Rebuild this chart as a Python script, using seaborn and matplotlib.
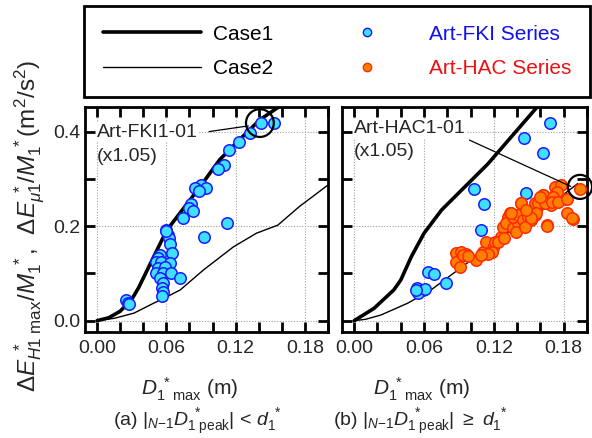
import numpy as np
import pandas as pd
import matplotlib
matplotlib.use("Agg")
import matplotlib.pyplot as plt
from matplotlib.lines import Line2D
from matplotlib.ticker import MultipleLocator, FormatStrFormatter
import seaborn as sns

# -----------------------
# Data
# -----------------------

case1_a_x = [0.0, 0.010, 0.020, 0.030, 0.036, 0.042, 0.048, 0.054, 0.060,
             0.070, 0.090, 0.106, 0.123, 0.141, 0.162]
case1_a_y = [0.0, 0.006, 0.020, 0.045, 0.070, 0.100, 0.130, 0.160, 0.190,
             0.222, 0.286, 0.340, 0.382, 0.425, 0.460]

case2_a_x = [0.0, 0.015, 0.032, 0.049, 0.060, 0.072, 0.092, 0.118, 0.138,
             0.1565, 0.175, 0.200]
case2_a_y = [0.0, 0.005, 0.016, 0.037, 0.050, 0.065, 0.107, 0.156, 0.185,
             0.202, 0.241, 0.287]

case1_b_x = [0.0, 0.017, 0.034, 0.040, 0.049, 0.060, 0.075, 0.095, 0.115,
             0.135, 0.160]
case1_b_y = [0.0, 0.026, 0.065, 0.086, 0.135, 0.185, 0.234, 0.283, 0.332,
             0.389, 0.460]

case2_b_x = [0.0, 0.010, 0.023, 0.046, 0.066, 0.089, 0.112, 0.135, 0.158,
             0.181, 0.192]
case2_b_y = [0.0, 0.003, 0.012, 0.037, 0.065, 0.107, 0.149, 0.192, 0.227,
             0.269, 0.290]

fki_a_x = [0.025, 0.027, 0.028,
           0.060, 0.0614, 0.0623, 0.0634, 0.065, 0.0542, 0.0528, 0.0514, 0.0557,
           0.0628, 0.0528, 0.0585, 0.0514, 0.0571, 0.0643, 0.0714, 0.0542, 0.0571,
           0.0565, 0.0571, 0.0565,
           0.1418, 0.1532, 0.1323, 0.1231, 0.1145, 0.1102, 0.1044, 0.0901, 0.0852,
           0.0944, 0.088, 0.0815, 0.080, 0.0829, 0.0743, 0.1122, 0.0594, 0.093]
fki_a_y = [0.044, 0.038, 0.035,
           0.192, 0.181, 0.174, 0.162, 0.143, 0.139, 0.132, 0.125, 0.125,
           0.121, 0.111, 0.114, 0.100, 0.100, 0.100, 0.090, 0.090, 0.079,
           0.069, 0.061, 0.052,
           0.419, 0.418, 0.398, 0.378, 0.360, 0.330, 0.320, 0.287, 0.280,
           0.280, 0.2745, 0.247, 0.239, 0.231, 0.217, 0.206, 0.190, 0.178]

fki_b_x = [0.168, 0.1458, 0.162, 0.1033, 0.1473, 0.1114, 0.109, 0.0632, 0.0689,
           0.079, 0.054, 0.0589, 0.0551, 0.0608, 0.0531]
fki_b_y = [0.418, 0.387, 0.355, 0.2775, 0.271, 0.246, 0.1915, 0.1035, 0.098,
           0.080, 0.0697, 0.065, 0.059, 0.067, 0.065]

hac_b_x = [0.0877, 0.092, 0.0963, 0.0877, 0.0905, 0.105, 0.1107, 0.1135, 0.1193,
           0.1207, 0.118, 0.1265, 0.128, 0.132, 0.1336, 0.1308, 0.1365, 0.141,
           0.139, 0.139, 0.0933, 0.0976, 0.1148, 0.1234, 0.129, 0.1364, 0.1407,
           0.145, 0.149, 0.152, 0.155, 0.1565, 0.161, 0.162, 0.1665, 0.169,
           0.182, 0.188, 0.166, 0.1436, 0.135, 0.1464, 0.109, 0.155,
           0.1724, 0.178, 0.1739, 0.1624, 0.171, 0.158, 0.1638, 0.1696, 0.1753,
           0.1825, 0.143, 0.1825, 0.1868, 0.1653, 0.1566, 0.1523, 0.148, 0.1595,
           0.194]
hac_b_y = [0.144, 0.146, 0.141, 0.125, 0.113, 0.128, 0.146, 0.167, 0.153,
           0.167, 0.146, 0.178, 0.199, 0.220, 0.227, 0.206, 0.196, 0.206,
           0.224, 0.188, 0.139, 0.137, 0.142, 0.167, 0.174, 0.220, 0.223,
           0.213, 0.220, 0.213, 0.223, 0.237, 0.248, 0.2655, 0.255, 0.244,
           0.258, 0.216, 0.202, 0.248, 0.227, 0.199, 0.139, 0.248,
           0.2836, 0.287, 0.273, 0.266, 0.262, 0.248, 0.248, 0.252, 0.252,
           0.257, 0.248, 0.2286, 0.2167, 0.200, 0.227, 0.2167, 0.234, 0.262,
           0.278]

x_ticks = [0.00, 0.06, 0.12, 0.18]
y_ticks = [0.0, 0.2, 0.4]

# -----------------------
# Style
# -----------------------

sns.set_style("ticks")
plt.rcParams["font.family"] = ["Liberation Sans", "DejaVu Sans"]
plt.rcParams["mathtext.fontset"] = "custom"
plt.rcParams["mathtext.rm"] = "Liberation Sans"
plt.rcParams["mathtext.it"] = "Liberation Sans:italic"
plt.rcParams["mathtext.bf"] = "Liberation Sans:bold"

FKI_FACE = "#3fe0ff"
FKI_EDGE = "#1a1aff"
HAC_FACE = "#ff8000"
HAC_EDGE = "#ff2a00"
FS = 14
MS = 68

fig = plt.figure(figsize=(5.92, 4.38), dpi=100)
ax_a = fig.add_axes([85 / 592, 1 - 332 / 438, 243 / 592, 225 / 438])
ax_b = fig.add_axes([342 / 592, 1 - 332 / 438, 245 / 592, 225 / 438])


def draw_curves(ax, c1x, c1y, c2x, c2y):
    sns.lineplot(x=c1x, y=c1y, ax=ax, color="black", lw=2.6,
                 sort=False, estimator=None, zorder=3)
    sns.lineplot(x=c2x, y=c2y, ax=ax, color="black", lw=1.0,
                 sort=False, estimator=None, zorder=3)


def style_axes(ax, show_ylabels):
    ax.set_xlim(-0.0105, 0.2)
    ax.set_ylim(-0.024, 0.452)
    ax.set_xticks(x_ticks)
    ax.set_yticks(y_ticks)
    ax.xaxis.set_minor_locator(MultipleLocator(0.02))
    ax.yaxis.set_minor_locator(MultipleLocator(0.1))
    ax.xaxis.set_major_formatter(FormatStrFormatter("%.2f"))
    ax.yaxis.set_major_formatter(FormatStrFormatter("%.1f"))
    ax.tick_params(which="both", direction="in", top=True, right=True,
                   length=7, width=2, color="black", labelsize=FS)
    ax.tick_params(axis="x", pad=6)
    ax.tick_params(axis="y", pad=3)
    if not show_ylabels:
        ax.tick_params(axis="y", labelleft=False)
    ax.grid(True, which="major", color="#a0a0a0", linestyle=(0, (1, 1.5)),
            linewidth=0.8, zorder=0)
    ax.set_axisbelow(True)
    for sp in ax.spines.values():
        sp.set_linewidth(2)
        sp.set_color("black")


# -----------------------
# (a)
# -----------------------

draw_curves(ax_a, case1_a_x, case1_a_y, case2_a_x, case2_a_y)
sns.scatterplot(x=fki_a_x, y=fki_a_y, ax=ax_a, color=FKI_FACE,
                edgecolor=FKI_EDGE, linewidth=1.1, s=MS, zorder=4)
ax_a.scatter([0.141], [0.418], s=400, facecolor="none", edgecolor="black",
             linewidth=1.6, zorder=5, clip_on=False)
ax_a.plot([0.097, 0.131], [0.400, 0.412], color="black", lw=0.9, zorder=5)
ax_a.text(0.0, 0.398, "Art-FKI1-01", fontsize=FS, ha="left", va="center",
          zorder=6, bbox=dict(facecolor="white", edgecolor="none", pad=0.5))
ax_a.text(0.0, 0.347, "(x1.05)", fontsize=FS, ha="left", va="center",
          zorder=6)
style_axes(ax_a, True)

# -----------------------
# (b)
# -----------------------

draw_curves(ax_b, case1_b_x, case1_b_y, case2_b_x, case2_b_y)
sns.scatterplot(x=fki_b_x, y=fki_b_y, ax=ax_b, color=FKI_FACE,
                edgecolor=FKI_EDGE, linewidth=1.1, s=MS, zorder=4)
sns.scatterplot(x=hac_b_x, y=hac_b_y, ax=ax_b, color=HAC_FACE,
                edgecolor=HAC_EDGE, linewidth=1.1, s=MS, zorder=4)
ax_b.scatter([0.194], [0.283], s=300, facecolor="none", edgecolor="black",
             linewidth=1.6, zorder=5, clip_on=False)
ax_b.plot([0.099, 0.186], [0.382, 0.284], color="black", lw=0.9, zorder=5)
ax_b.text(0.0, 0.406, "Art-HAC1-01", fontsize=FS, ha="left", va="center",
          zorder=6, bbox=dict(facecolor="white", edgecolor="none", pad=0.5))
ax_b.text(0.0, 0.357, "(x1.05)", fontsize=FS, ha="left", va="center",
          zorder=6)
style_axes(ax_b, False)

# -----------------------
# Labels
# -----------------------

ax_a.set_ylabel(
    r"$\mathit{\Delta E}^{\ *}_{H1\ \mathrm{max}}/M^{\ *}_{1}$,  "
    r"$\mathit{\Delta E}_{\mu 1}^{\ *}/M^{\ *}_{1}$(m$^2$/s$^2$)",
    fontsize=17.5)
ax_a.yaxis.set_label_coords(-0.156, 0.47)

xlabel = r"$D^{\ *}_{1\ \ \mathrm{max}}$ (m)"
ax_a.set_xlabel(xlabel, fontsize=15)
ax_b.set_xlabel(xlabel, fontsize=15)
ax_a.xaxis.set_label_coords(0.43, -0.195)
ax_b.xaxis.set_label_coords(0.325, -0.195)

fig.text(197 / 592, 1 - 422 / 438,
         r"(a) $|_{N\mathrm{-}1}D^{\ *}_{1\ \mathrm{peak}}|$ < $d^{\ *}_{1}$",
         fontsize=FS, ha="center", va="center")
fig.text(420 / 592, 1 - 422 / 438,
         r"(b) $|_{N\mathrm{-}1}D^{\ *}_{1\ \mathrm{peak}}|\ \geq\ d^{\ *}_{1}$",
         fontsize=FS, ha="center", va="center")

# -----------------------
# Legend
# -----------------------

handles = [
    Line2D([], [], color="black", lw=2.6),
    Line2D([], [], color="black", lw=1.0),
    Line2D([], [], ls="none", marker="o", markersize=6,
           markerfacecolor=FKI_FACE, markeredgecolor=FKI_EDGE),
    Line2D([], [], ls="none", marker="o", markersize=6,
           markerfacecolor=HAC_FACE, markeredgecolor=HAC_EDGE),
]
labels = ["Case1", "Case2", "Art-FKI Series", "Art-HAC Series"]

leg = fig.legend(
    handles,
    labels,
    ncol=2,
    loc="lower left",
    bbox_to_anchor=(84 / 592, 1 - 97 / 438, 506 / 592, 90 / 438),
    mode="expand",
    borderaxespad=0,
    fontsize=15,
    handlelength=4.7,
    handletextpad=0.6,
    labelspacing=0.75,
    borderpad=0.9,
    columnspacing=3.0,
    fancybox=False,
    edgecolor="black",
    framealpha=1,
    labelcolor=["black", "black", "#1010ee", "#ee1010"],
)
leg.get_frame().set_linewidth(2)

plt.savefig("out.png", dpi=100)
plt.close()
